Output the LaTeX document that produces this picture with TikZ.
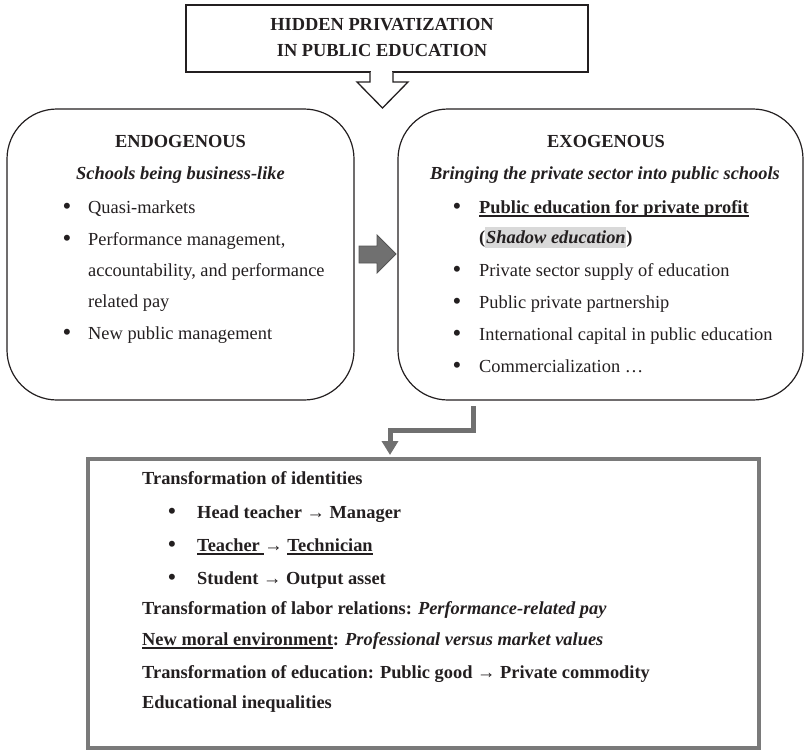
\documentclass[tikz,border=0pt]{standalone}
\usepackage{fontspec}
\setmainfont{Liberation Serif}
\usetikzlibrary{arrows.meta}
\definecolor{hlgray}{HTML}{D9D9D9}
\definecolor{arrgray}{HTML}{707070}
\definecolor{boxgray}{HTML}{7A7A7A}
\definecolor{ink}{HTML}{231F20}
\newcommand\ulw[1]{\setbox0\hbox{#1}\rlap{\rule[-3.5pt]{\wd0}{1.2pt}}\box0}
\newcommand\hlbox[1]{{\setlength{\fboxsep}{0.8pt}\colorbox{hlgray}{\rule[-4pt]{0pt}{19.5pt}#1}}}
\newcommand\bigbul{\raisebox{-1.6pt}{\fontsize{25}{25}\selectfont •}}
\begin{document}
\begin{tikzpicture}[x=1pt,y=-1pt,
  every node/.append style={inner sep=0pt, text=ink, font=\fontsize{18.4}{22}\selectfont},
  lt/.style={anchor=base west},
  ct/.style={anchor=base},
  bul/.style={anchor=base},
  rbox/.style={draw=ink, line width=1.2pt, rounded corners=50pt},
  topbox/.style={draw=ink, line width=1.5pt},
  outbox/.style={draw=boxgray, line width=4pt},
  elbow/.style={draw=arrgray, line width=5pt, -{Triangle[width=16pt,length=14pt]}},
  block/.style={fill=arrgray, draw=arrgray!75!black, line width=0.8pt, line join=miter}
]
\useasboundingbox (0,0) rectangle (805,750);

% ---- top box ----
\node[topbox, minimum width=402pt, minimum height=67pt] (top) at (387,38.5) {};
\node[ct] (t1) at (382,30.5) {\textbf{HIDDEN PRIVATIZATION}};
\node[ct] (t2) at (382,56.5) {\textbf{IN PUBLIC EDUCATION}};
\fill[white] (370.8,69) rectangle (392.2,74);
\draw[topbox, line width=1.3pt, fill=white, line join=miter]
  (370,72) -- (370,82) -- (357,82) -- (382.5,108) -- (408,82) -- (393,82) -- (393,72);

% ---- left box ----
\node[rbox, minimum width=347pt, minimum height=291pt] (endo) at (180.5,254.5) {};
\node[ct] (eh) at (180.5,147) {\textbf{ENDOGENOUS}};
\node[ct] (es) at (180.5,179) {\textbf{\textit{Schools being business-like}}};
\node[bul] (eb1) at (67,213) {\bigbul};
\node[lt] (el1) at (88,213) {Quasi-markets};
\node[bul] (eb2) at (67,245) {\bigbul};
\node[lt] (el2) at (88,245) {Performance management,};
\node[lt] (el3) at (88,276) {accountability, and performance};
\node[lt] (el4) at (88,307) {related pay};
\node[bul] (eb3) at (67,339) {\bigbul};
\node[lt] (el5) at (88,339) {New public management};

% ---- grey block arrow ----
\filldraw[block] (359,246) -- (377,246) -- (377,235) -- (396,254) -- (377,273) -- (377,263) -- (359,263) -- cycle;

% ---- right box ----
\node[rbox, minimum width=405pt, minimum height=291pt] (exo) at (600.5,254.5) {};
\node[ct] (xh) at (606,147) {\textbf{EXOGENOUS}};
\node[ct] (xs) at (605,179) {\textbf{\textit{Bringing the private sector into public schools}}};
\node[bul] (xb1) at (457,213) {\bigbul};
\node[lt] (xl1) at (479,213) {\textbf{\ulw{Public education for private profit}}};
\node[lt] (xl2) at (479,243) {\textbf{(}\hlbox{\textbf{\textit{Shadow education}}}\textbf{)}};
\node[bul] (xb2) at (457,276) {\bigbul};
\node[lt] (xl3) at (479,276) {Private sector supply of education};
\node[bul] (xb3) at (457,308) {\bigbul};
\node[lt] (xl4) at (479,308) {Public private partnership};
\node[bul] (xb4) at (457,340) {\bigbul};
\node[lt] (xl5) at (479,340) {International capital in public education};
\node[bul] (xb5) at (457,372) {\bigbul};
\node[lt] (xl6) at (479,372) {Commercialization …};

% ---- elbow arrow ----
\coordinate (e1) at (473,406);
\coordinate (e2) at (390,455);
\draw[elbow] (e1) -- (473,430) -| (e2);

% ---- bottom box ----
\node[outbox, minimum width=671pt, minimum height=289pt] (out) at (423.5,603.5) {};
\node[lt] (o1) at (142,484) {\textbf{Transformation of identities}};
\node[bul] (ob1) at (172,518) {\bigbul};
\node[lt] (o2) at (197,518) {\textbf{Head teacher → Manager}};
\node[bul] (ob2) at (172,551) {\bigbul};
\node[lt] (o3) at (197,551) {\textbf{\ulw{Teacher\ }→ \ulw{Technician}}};
\node[bul] (ob3) at (172,584) {\bigbul};
\node[lt] (o4) at (197,584) {\textbf{Student → Output asset}};
\node[lt] (o5) at (142,614) {\textbf{Transformation of labor relations: \textit{Performance-related pay}}};
\node[lt] (o6) at (142,645) {\textbf{\ulw{New moral environment}: \textit{Professional versus market values}}};
\node[lt] (o7) at (142,678) {\textbf{Transformation of education: Public good → Private commodity}};
\node[lt] (o8) at (142,708) {\textbf{Educational inequalities}};
\end{tikzpicture}
\end{document}
